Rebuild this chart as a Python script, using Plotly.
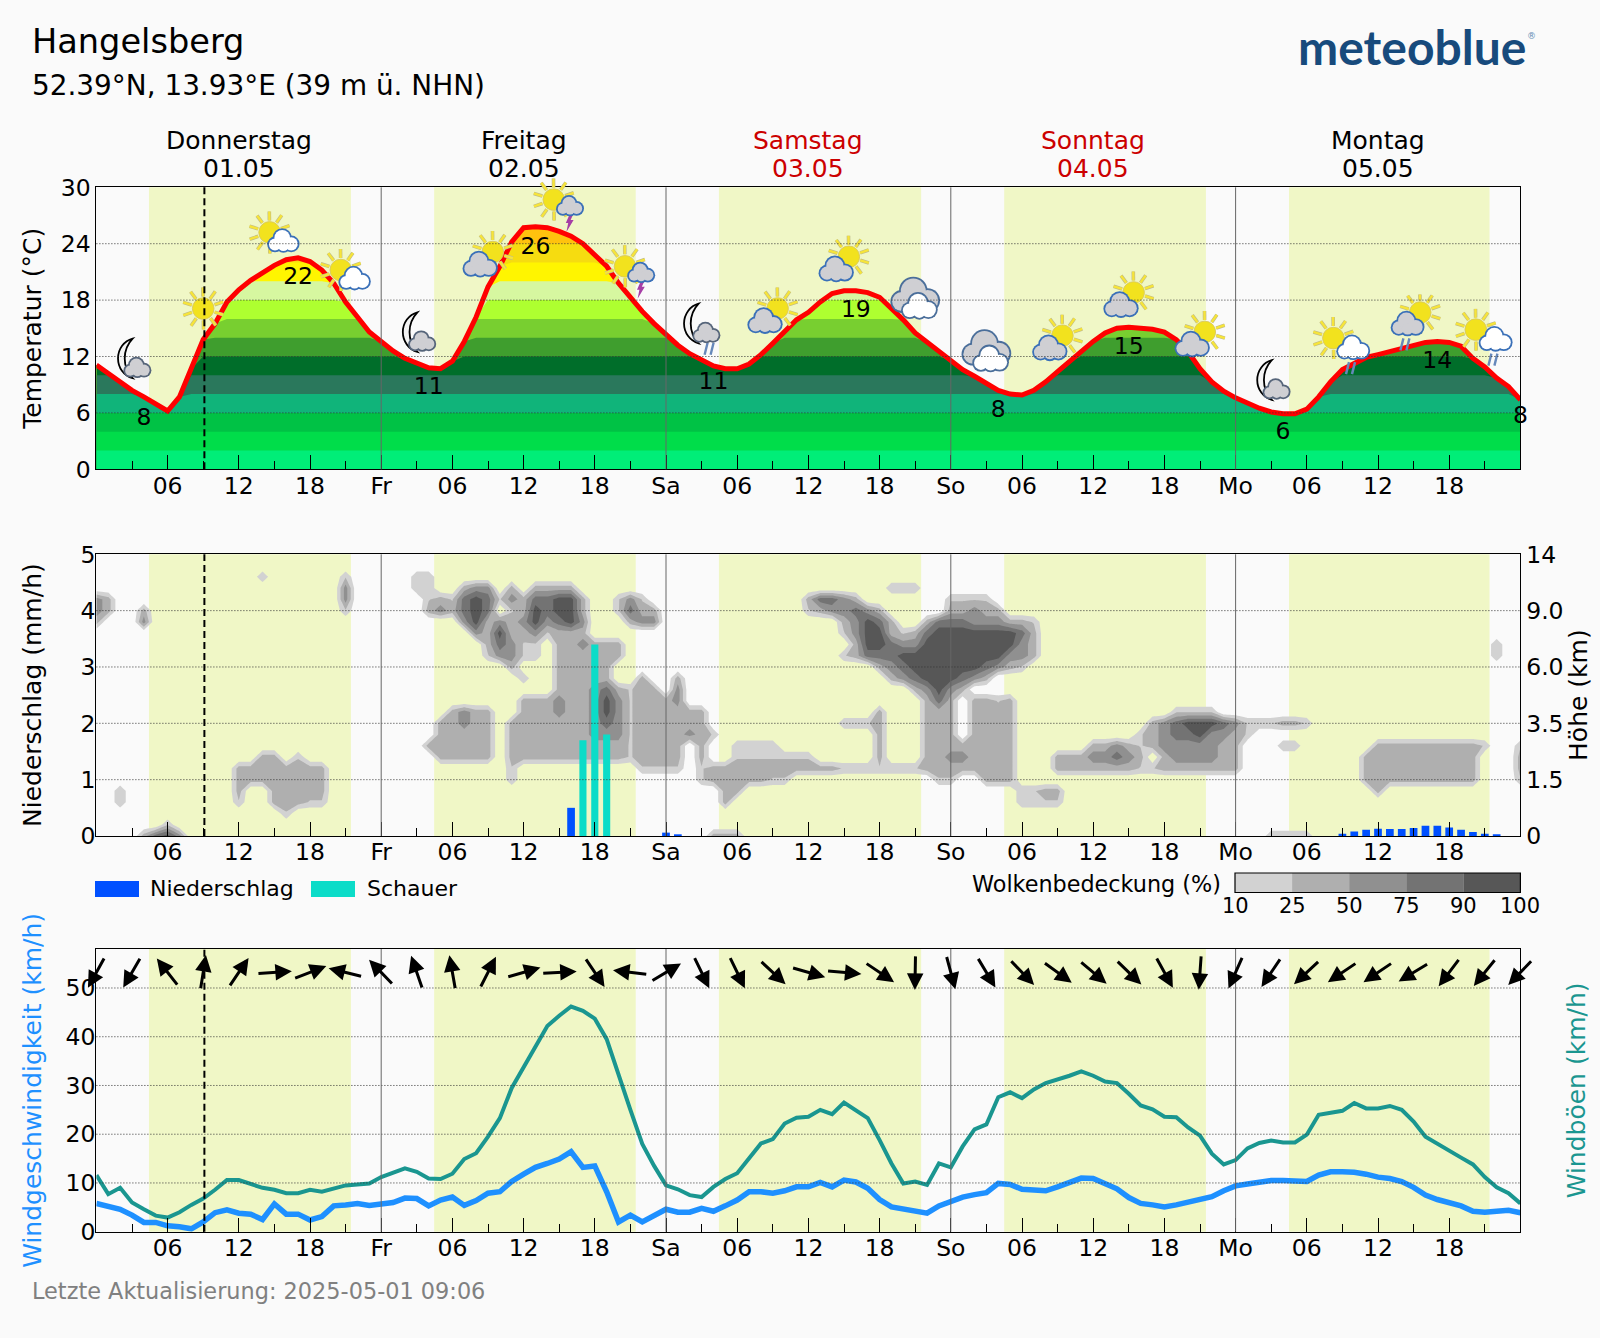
import base64
import math

import numpy as np
import plotly.graph_objects as go

FONT = "DejaVu Sans"
BG = "#FAFAFA"
DAYLIGHT = "#F0F7C6"
WIDTH, HEIGHT = 1600, 1338
PLOT_LEFT, PLOT_RIGHT = 96.4, 1520.4

hours = list(range(121))

temperature = [
    11.1, 10.2, 9.3, 8.4, 7.7, 6.9, 6.2, 7.7, 10.7, 13.8, 15.5, 17.8, 19.1, 20.1, 20.9, 21.7, 22.3, 22.5, 22.1, 21.2,
    19.8, 17.8, 16.2, 14.6, 13.6, 12.6, 11.8, 11.3, 10.8, 10.7, 11.5, 13.6, 16.2, 19.4, 21.6, 24.2, 25.7, 25.8, 25.7, 25.3,
    24.8, 24.0, 22.8, 21.6, 19.8, 18.2, 16.8, 15.5, 14.3, 13.2, 12.3, 11.6, 11.0, 10.7, 10.7, 11.2, 12.2, 13.4, 14.6, 15.9,
    16.7, 17.8, 18.7, 19.0, 19.0, 18.8, 18.3, 17.1, 15.9, 14.5, 13.5, 12.5, 11.6, 10.6, 9.9, 9.1, 8.4, 8.0, 7.9, 8.4,
    9.3, 10.4, 11.5, 12.5, 13.6, 14.5, 15.0, 15.1, 15.0, 14.9, 14.6, 13.8, 12.5, 10.7, 9.3, 8.3, 7.6, 7.0, 6.5, 6.1,
    5.9, 5.9, 6.4, 7.7, 9.3, 10.6, 11.3, 11.9, 12.2, 12.5, 12.8, 13.2, 13.5, 13.6, 13.5, 13.1, 11.8, 10.9, 9.7, 8.8,
    7.4,
]
wind_speed = [
    5.8, 5.1, 4.6, 3.4, 1.9, 1.9, 1.2, 1.0, 0.6, 2.0, 3.9, 4.5, 3.8, 3.6, 2.5, 5.7, 3.6, 3.6, 2.4, 3.1,
    5.3, 5.5, 5.8, 5.4, 5.8, 6.0, 6.9, 6.8, 5.3, 6.5, 7.1, 5.4, 6.4, 7.9, 8.2, 10.3, 11.8, 13.2, 14.0, 14.9,
    16.4, 13.2, 13.5, 8.2, 2.0, 3.4, 2.0, 3.2, 4.6, 4.0, 4.0, 4.8, 4.2, 5.3, 6.5, 8.2, 8.2, 7.9, 8.4, 9.2,
    9.2, 10.1, 9.2, 10.6, 10.2, 8.9, 6.6, 5.1, 4.6, 4.3, 3.8, 5.3, 6.3, 7.1, 7.6, 8.0, 9.9, 9.7, 8.7, 8.6,
    8.4, 9.2, 10.1, 11.0, 10.9, 9.8, 8.8, 7.0, 5.8, 5.5, 5.1, 5.5, 6.0, 6.5, 7.2, 8.4, 9.4, 9.8, 10.1, 10.5,
    10.5, 10.3, 10.3, 11.6, 12.3, 12.3, 12.2, 11.8, 11.2, 10.9, 10.3, 9.1, 7.5, 6.6, 6.0, 5.3, 4.2, 4.0, 4.2, 4.4,
    3.9,
]
wind_gust = [
    11.6, 7.7, 9.0, 6.0, 4.6, 3.3, 2.9, 4.0, 5.5, 6.8, 8.6, 10.6, 10.6, 9.7, 9.0, 8.6, 7.9, 7.9, 8.6, 8.2,
    8.9, 9.5, 9.7, 9.9, 11.2, 12.0, 13.0, 12.3, 10.9, 10.8, 11.9, 14.9, 16.1, 19.5, 23.3, 29.5, 33.7, 38.0, 42.2, 44.3,
    46.2, 45.3, 43.7, 39.5, 32.0, 25.0, 18.0, 13.5, 9.5, 8.7, 7.5, 7.1, 9.2, 10.8, 12.0, 14.9, 18.1, 19.0, 22.2, 23.4,
    23.6, 25.0, 24.1, 26.5, 25.0, 23.3, 18.8, 14.0, 9.9, 10.3, 9.6, 14.0, 13.2, 17.5, 21.0, 22.0, 27.6, 28.6, 27.4, 29.2,
    30.5, 31.2, 32.0, 32.9, 32.0, 30.8, 30.5, 28.3, 25.9, 25.1, 23.6, 23.5, 21.4, 19.7, 16.0, 13.8, 14.7, 17.1, 18.2, 18.7,
    18.3, 18.3, 19.9, 24.0, 24.3, 24.8, 26.4, 25.3, 25.3, 25.8, 25.0, 22.6, 19.5, 18.0, 16.6, 15.2, 13.8, 11.2, 9.1, 7.9,
    5.8,
]
arrow_hours = list(range(0, 121, 3))
arrow_bearing = [
    209, 210, 322, 9, 34, 86, 69, 284, 316, 341, 350, 27, 74, 87, 146, 277, 59, 154, 154, 133,
    106, 95, 124, 181, 165, 149, 136, 126, 130, 134, 151, 184, 204, 214, 227, 236, 236, 239, 217, 219,
    224,
]

precip_hours = [40, 48, 49, 105, 106, 107, 108, 109, 110, 111, 112, 113, 114, 115, 116, 117, 118]
precip_values = [0.5, 0.06, 0.02, 0.04, 0.08, 0.11, 0.13, 0.125, 0.125, 0.14, 0.18, 0.18, 0.15, 0.11, 0.07, 0.04, 0.02]
shower_hours = [41, 42, 43]
shower_values = [1.7, 3.4, 1.8]

daylight = [(4.43, 21.45), (28.46, 45.45), (52.46, 69.5), (76.5, 93.5), (100.5, 117.4)]
now_hour = 9.1

day_names = ["Donnerstag", "Freitag", "Samstag", "Sonntag", "Montag"]
day_dates = ["01.05", "02.05", "03.05", "04.05", "05.05"]
day_colors = ["black", "black", "#CC0000", "#CC0000", "black"]

tick_hours = list(range(0, 121, 6))
tick_labels = [
    "", "06", "12", "18", "Fr", "06", "12", "18", "Sa", "06", "12", "18", "So",
    "06", "12", "18", "Mo", "06", "12", "18", "",
]

band_tops = [40, 24, 22, 20, 18, 16, 14, 12, 10, 8, 6, 4, 2]
band_colors = [
    "#FFC20E", "#F6DC10", "#FFF500", "#D6F7A0", "#AEFF30", "#78CF30", "#3F9E2E",
    "#006E2A", "#2A785C", "#10B47A", "#00C245", "#00DD4A", "#00EE78",
]

label_hours = [4, 17, 28, 37, 52, 64, 76, 87, 100, 113, 120]
label_temps = [5.3, 20.3, 8.6, 23.5, 9.2, 16.8, 6.2, 12.9, 3.8, 11.4, 5.5]
label_texts = ["8", "22", "11", "26", "11", "19", "8", "15", "6", "14", "8"]

icon_hours = list(range(3, 118, 6))
icon_temps = [11.8, 17.1, 25.2, 21.2, 14.6, 22.6, 28.5, 21.4, 15.0, 16.6, 22.1, 17.9, 12.3, 13.7, 18.3, 14.1, 9.5, 13.0, 15.4, 13.9]
icon_kinds = [
    "moon", "sun", "sun_white", "sun_white", "moon", "sun_gray", "sun_storm", "sun_storm", "moon_rain", "sun_gray",
    "sun_gray", "clouds", "clouds", "sun_gray", "sun_gray", "sun_gray", "moon", "sun_white_rain", "sun_gray_rain", "sun_white_rain",
]

# cloud cover classes per height row: (first hour, last hour, class 1-5 = 10/25/50/75/90 %)
cloud_rows = {
    4.6: [(14, 14, 1), (21, 21, 1), (27, 28, 1)],
    4.4: [(21, 21, 3), (27, 28, 1), (31, 31, 2), (32, 33, 3), (35, 35, 2), (37, 40, 2), (67, 69, 1)],
    4.2: [(0, 1, 2), (0, 0, 3), (21, 21, 3), (28, 28, 1), (29, 29, 2), (30, 30, 1), (31, 31, 4), (32, 32, 5), (33, 33, 4),
          (34, 34, 1), (35, 35, 3), (36, 36, 2), (37, 38, 4), (39, 40, 5), (41, 41, 2), (44, 44, 1), (45, 45, 3), (46, 46, 1), (60, 60, 2), (61, 62, 4), (63, 63, 3),
          (64, 64, 2), (72, 75, 1)],
    4.0: [(0, 0, 3), (1, 1, 2), (4, 4, 2), (21, 21, 1), (28, 28, 2), (29, 29, 3), (30, 30, 2), (31, 31, 4), (32, 32, 5),
          (33, 33, 4), (35, 35, 1), (36, 36, 2), (37, 37, 5), (38, 38, 4), (39, 40, 5), (41, 41, 2), (44, 44, 1), (45, 45, 4),
          (46, 47, 2), (60, 60, 1), (61, 61, 2), (62, 63, 3), (64, 64, 4), (65, 65, 3), (66, 66, 2), (72, 76, 2), (74, 74, 3)],
    3.8: [(0, 0, 2), (4, 4, 3), (31, 31, 3), (32, 32, 5), (33, 33, 2), (34, 34, 3), (35, 35, 2), (36, 36, 3), (37, 37, 5),
          (38, 38, 3), (39, 39, 4), (40, 40, 5), (41, 41, 3), (45, 45, 2), (46, 47, 3), (63, 63, 2), (64, 64, 3), (65, 65, 5),
          (66, 66, 4), (67, 67, 2), (70, 70, 2), (71, 73, 4), (74, 76, 3), (77, 78, 2), (79, 79, 1)],
    3.6: [(32, 32, 3), (33, 33, 2), (34, 34, 5), (35, 36, 2), (37, 37, 3), (38, 38, 1), (39, 41, 2), (63, 63, 1), (64, 64, 3),
          (65, 66, 5), (67, 67, 2), (68, 68, 1), (69, 69, 2), (70, 70, 4), (71, 77, 5), (78, 78, 4), (79, 79, 2)],
    3.4: [(33, 33, 2), (34, 34, 4), (35, 35, 3), (36, 37, 1), (39, 40, 2), (41, 41, 3), (42, 44, 2), (64, 64, 2), (65, 66, 5),
          (67, 67, 4), (68, 69, 3), (70, 77, 5), (78, 78, 3), (79, 79, 2), (118, 118, 1)],
    3.2: [(33, 33, 1), (34, 35, 3), (36, 37, 1), (39, 44, 2), (63, 63, 1), (64, 64, 2), (65, 67, 4), (68, 76, 5), (77, 78, 3),
          (79, 79, 2), (118, 118, 1)],
    3.0: [(35, 35, 2), (39, 43, 2), (66, 66, 2), (67, 67, 3), (68, 68, 4), (69, 74, 5), (75, 75, 4), (76, 76, 3), (77, 77, 2),
          (78, 78, 1)],
    2.8: [(36, 36, 1), (39, 43, 2), (46, 46, 2), (49, 49, 2), (67, 67, 2), (68, 68, 3), (69, 69, 4), (70, 72, 5), (73, 73, 4),
          (74, 74, 3), (75, 75, 2)],
    2.6: [(39, 41, 2), (42, 42, 3), (43, 43, 4), (44, 44, 2), (45, 45, 1), (46, 47, 2), (49, 49, 3), (69, 69, 2), (70, 70, 3),
          (71, 71, 5), (72, 72, 3), (73, 73, 2)],
    2.4: [(36, 38, 2), (39, 39, 3), (40, 41, 2), (42, 42, 3), (43, 43, 5), (44, 44, 3), (45, 45, 1), (46, 48, 2), (49, 49, 3),
          (70, 70, 2), (71, 71, 4), (72, 72, 2), (74, 75, 2), (76, 76, 1), (77, 77, 2)],
    2.2: [(30, 33, 2), (31, 31, 3), (36, 38, 2), (39, 39, 3), (40, 41, 2), (42, 42, 3), (43, 43, 5), (44, 44, 3), (45, 45, 1),
          (46, 51, 2), (66, 66, 2), (70, 72, 2), (74, 77, 2), (91, 94, 1)],
    2.0: [(29, 33, 2), (31, 31, 3), (35, 41, 2), (42, 42, 3), (43, 43, 4), (44, 44, 3), (45, 45, 1), (46, 51, 2), (63, 65, 1),
          (66, 66, 2), (70, 72, 2), (74, 77, 2), (89, 89, 2), (90, 90, 3), (91, 91, 4), (92, 94, 5), (95, 95, 4), (96, 96, 3),
          (97, 99, 1), (100, 101, 2), (102, 102, 1)],
    1.8: [(29, 33, 2), (35, 41, 2), (42, 44, 3), (45, 45, 1), (46, 49, 2), (50, 50, 3), (51, 51, 2), (52, 52, 1), (66, 66, 2),
          (70, 72, 2), (74, 77, 2), (88, 88, 1), (89, 89, 2), (90, 90, 3), (91, 92, 4), (93, 93, 5), (94, 95, 3), (96, 96, 2),
          (97, 97, 1)],
    1.6: [(28, 33, 2), (35, 44, 2), (45, 45, 1), (46, 49, 2), (51, 51, 2), (54, 57, 1), (66, 66, 2), (70, 77, 2), (84, 87, 2),
          (86, 86, 3), (88, 88, 1), (89, 89, 2), (90, 94, 3), (95, 96, 2), (100, 101, 1), (108, 116, 2), (117, 117, 1), (120, 120, 1)],
    1.4: [(14, 15, 2), (17, 17, 1), (29, 33, 2), (35, 44, 2), (45, 45, 1), (46, 49, 2), (51, 51, 2), (54, 60, 1), (66, 66, 2),
          (70, 77, 2), (72, 73, 3), (81, 88, 2), (84, 87, 3), (86, 86, 4), (90, 96, 2), (91, 94, 3), (107, 116, 2), (120, 120, 2)],
    1.2: [(12, 13, 2), (14, 19, 2), (35, 35, 1), (46, 49, 1), (51, 51, 1), (52, 62, 2), (63, 69, 1), (70, 77, 2), (81, 87, 2),
          (88, 89, 1), (90, 96, 2), (107, 116, 2), (120, 120, 2)],
    1.0: [(12, 13, 2), (14, 19, 2), (35, 35, 1), (51, 51, 1), (52, 56, 2), (57, 58, 1), (71, 72, 1), (75, 77, 2), (107, 116, 2),
          (120, 120, 1)],
    0.8: [(2, 2, 1), (12, 12, 2), (15, 19, 2), (53, 54, 2), (78, 79, 1), (80, 81, 2), (108, 108, 2)],
    0.6: [(2, 2, 1), (12, 12, 1), (15, 17, 2), (18, 19, 1), (53, 53, 2), (78, 81, 1)],
    0.4: [(16, 16, 1)],
    0.2: [(6, 6, 1)],
    0.0: [(4, 7, 2), (5, 5, 4), (6, 6, 5), (7, 7, 3), (52, 54, 2), (99, 102, 1)],
}
cloud_class_level = [0, 1.9, 2.5, 3.5, 4.5, 5.5]
cloud_colors = ["#D2D2D2", "#AFAFAF", "#909090", "#737373", "#575757"]
cloud_ticks = ["10", "25", "50", "75", "90", "100"]

height_ticks = ["0", "1.5", "3.5", "6.0", "9.0", "14"]

DOMAINS = {1: (187.3, 469.3), 2: (554.3, 836.0), 3: (949.0, 1231.7)}
CBAR_LEFT = 1235.0


def paper_y(py):
    return 1 - py / HEIGHT


def paper_x(px):
    return px / WIDTH


def hour_px(hour):
    return PLOT_LEFT + hour * (PLOT_RIGHT - PLOT_LEFT) / 120


def build_cloud_field():
    rows = np.round(np.arange(0, 5.01, 0.2), 1)
    field = np.zeros((len(rows), len(hours)))
    for row_index, row in enumerate(rows):
        for first, last, cls in cloud_rows.get(float(row), []):
            field[row_index, first : last + 1] = np.maximum(field[row_index, first : last + 1], cloud_class_level[cls])
    return rows.tolist(), field.tolist()


def cloud_svg(cx, cy, s, fill, stroke="#3A70B8"):
    parts = [(cx - 14 * s, cy + 3 * s, 10 * s), (cx - 2 * s, cy - 8 * s, 13 * s), (cx + 13 * s, cy + 2 * s, 11 * s), (cx, cy + 5 * s, 9 * s)]
    out = "".join(f'<circle cx="{x:.1f}" cy="{y:.1f}" r="{r + 3:.1f}" fill="{stroke}"/>' for x, y, r in parts)
    out += "".join(f'<circle cx="{x:.1f}" cy="{y:.1f}" r="{r:.1f}" fill="{fill}"/>' for x, y, r in parts)
    return out


def sun_svg(cx, cy, r=18, ray=35):
    out = ""
    for color, width in (("#BDB98A", 6), ("#F6E43A", 4)):
        for k in range(10):
            a = k * math.pi / 5 + 0.3
            out += (
                f'<line x1="{cx + (r + 2) * math.cos(a):.1f}" y1="{cy + (r + 2) * math.sin(a):.1f}" '
                f'x2="{cx + ray * math.cos(a):.1f}" y2="{cy + ray * math.sin(a):.1f}" stroke="{color}" stroke-width="{width}"/>'
            )
    out += f'<circle cx="{cx}" cy="{cy}" r="{r}" fill="#F2E21E" stroke="#D8C860" stroke-width="1.5"/>'
    return out


def moon_svg(cx, cy):
    return (
        f'<path d="M {cx + 13} {cy - 33} A 32 34 0 0 0 {cx + 13} {cy + 33} A 48 48 0 0 1 {cx + 13} {cy - 33} Z" '
        'fill="#F4F4F4" stroke="black" stroke-width="3"/>'
    )


def rain_svg(cx, cy):
    return "".join(
        f'<line x1="{cx + d + 3}" y1="{cy - 10}" x2="{cx + d - 2}" y2="{cy + 10}" stroke="#6688BB" stroke-width="4"/>' for d in (-5, 5)
    )


def bolt_svg(cx, cy):
    return f'<path d="M {cx + 2} {cy - 14} L {cx + 8} {cy - 14} L {cx + 3} {cy - 3} L {cx + 8} {cy - 3} L {cx - 4} {cy + 17} L {cx - 1} {cy + 2} L {cx - 5} {cy + 2} Z" fill="#A63FA6"/>'


def icon_source(kind):
    white, gray = "#FFFFFF", "#CFCFD3"
    if kind == "sun":
        body = sun_svg(50, 50)
    elif kind == "moon":
        body = moon_svg(38, 50) + cloud_svg(59, 68, 0.85, gray, "#56657A")
    elif kind == "moon_rain":
        body = moon_svg(32, 42) + rain_svg(62, 84) + cloud_svg(58, 60, 0.85, gray, "#56657A")
    elif kind == "sun_white":
        body = sun_svg(42, 50) + cloud_svg(65, 67, 1.0, white)
    elif kind == "sun_gray":
        body = sun_svg(58, 42) + cloud_svg(37, 66, 1.1, gray)
    elif kind == "sun_storm":
        body = sun_svg(41, 47) + bolt_svg(66, 84) + cloud_svg(68, 60, 0.85, gray)
    elif kind == "sun_white_rain":
        body = sun_svg(35, 35) + rain_svg(63, 85) + cloud_svg(68, 54, 1.05, white)
    elif kind == "sun_gray_rain":
        body = sun_svg(61, 30) + rain_svg(35, 83) + cloud_svg(40, 52, 1.05, gray)
    else:
        body = cloud_svg(50, 46, 1.6, gray, "#4A6E9A") + cloud_svg(57, 62, 1.15, white, "#4A6E9A")
    svg = f'<svg xmlns="http://www.w3.org/2000/svg" viewBox="0 0 100 100" width="200" height="200">{body}</svg>'
    return "data:image/svg+xml;base64," + base64.b64encode(svg.encode()).decode()


def add_bands(fig):
    for top, color in zip(band_tops, band_colors):
        fig.add_trace(
            go.Scatter(
                x=hours,
                y=np.minimum(temperature, top),
                mode="lines",
                line={"width": 0},
                fill="tozeroy",
                fillcolor=color,
                showlegend=False,
                xaxis="x",
                yaxis="y",
                hoverinfo="skip",
            )
        )


fig = go.Figure()
add_bands(fig)
fig.add_trace(go.Scatter(x=hours, y=temperature, mode="lines", line={"color": "#FF0000", "width": 5}, name="Temperatur", showlegend=False, xaxis="x", yaxis="y"))
fig.add_trace(
    go.Scatter(
        x=label_hours, y=label_temps, text=label_texts, mode="text", textfont={"family": FONT, "size": 23.5, "color": "black"},
        cliponaxis=False, showlegend=False, xaxis="x", yaxis="y",
    )
)

cloud_y, cloud_z = build_cloud_field()
fig.add_trace(
    go.Contour(
        x=hours,
        y=cloud_y,
        z=cloud_z,
        zmin=0.5,
        zmax=6.5,
        autocontour=False,
        contours={"start": 1, "end": 6, "size": 1, "coloring": "fill", "showlines": False},
        line={"width": 0, "smoothing": 0},
        colorscale=[[i / 6, c] for i, c in enumerate(["rgba(0,0,0,0)"] + cloud_colors + [cloud_colors[-1]])],
        showscale=False,
        xaxis="x2",
        yaxis="y2",
        hoverinfo="skip",
    )
)
fig.add_trace(go.Bar(x=precip_hours, y=precip_values, width=0.65, marker={"color": "#0050FF", "line": {"width": 0}}, name="Niederschlag", showlegend=False, xaxis="x2", yaxis="y4"))
fig.add_trace(go.Bar(x=shower_hours, y=shower_values, width=0.6, marker={"color": "#0CDCC8", "line": {"width": 0}}, name="Schauer", showlegend=False, xaxis="x2", yaxis="y4"))

fig.add_trace(go.Scatter(x=hours, y=wind_gust, mode="lines", line={"color": "#1A9690", "width": 4}, name="Windböen", showlegend=False, xaxis="x3", yaxis="y3"))
fig.add_trace(go.Scatter(x=hours, y=wind_speed, mode="lines", line={"color": "#1E90FF", "width": 5.5}, name="Windgeschwindigkeit", showlegend=False, xaxis="x3", yaxis="y5"))

x_common = {
    "range": [0, 120],
    "tickmode": "array",
    "tickvals": tick_hours,
    "ticktext": tick_labels,
    "ticks": "inside",
    "ticklen": 14,
    "tickwidth": 1,
    "tickcolor": "black",
    "ticklabelstandoff": -5,
    "minor": {"ticks": "inside", "ticklen": 8, "tickwidth": 1, "tickcolor": "black", "tick0": 0, "dtick": 3},
    "tickangle": 0,
    "tickfont": {"family": FONT, "size": 23.5, "color": "black"},
    "showgrid": False,
    "zeroline": False,
    "showline": True,
    "linecolor": "black",
    "linewidth": 1.2,
    "mirror": True,
    "domain": [paper_x(PLOT_LEFT), paper_x(PLOT_RIGHT)],
}


def y_common(panel, y_range, tickvals, ticktext, side="left", title=None, title_color="black", standoff=10):
    top, bottom = DOMAINS[panel]
    axis = {
        "domain": [paper_y(bottom), paper_y(top)],
        "range": y_range,
        "tickmode": "array",
        "tickvals": tickvals,
        "ticktext": ticktext,
        "ticks": "",
        "side": side,
        "ticklabelstandoff": 0,
        "tickfont": {"family": FONT, "size": 23.5, "color": "black"},
        "showgrid": False,
        "zeroline": False,
        "automargin": False,
    }
    if title:
        axis["title"] = {"text": title, "font": {"family": FONT, "size": 25, "color": title_color}, "standoff": standoff}
    return axis


layout_axes = {
    "xaxis": {**x_common, "anchor": "y"},
    "xaxis2": {**x_common, "anchor": "y2"},
    "xaxis3": {**x_common, "anchor": "y3"},
    "yaxis": {
        **y_common(1, [0, 30], [0, 6, 12, 18, 24, 30], ["0", "6", "12", "18", "24", "30"], title="Temperatur (°C)", standoff=11),
        "anchor": "x", "showline": True, "linecolor": "black", "linewidth": 1.2, "mirror": True,
    },
    "yaxis2": {
        **y_common(2, [0, 5], [0, 1, 2, 3, 4, 5], height_ticks, side="right", title="Höhe (km)", standoff=6),
        "anchor": "x2", "showline": True, "linecolor": "black", "linewidth": 1.2, "mirror": True,
    },
    "yaxis3": {
        **y_common(3, [0, 58], [0, 10, 20, 30, 40, 50], ["", "", "", "", "", ""], side="right", title="Windböen (km/h)", title_color="#1A9690", standoff=42),
        "anchor": "x3", "showline": True, "linecolor": "black", "linewidth": 1.2, "mirror": True,
    },
    "yaxis4": {
        **y_common(2, [0, 5], [0, 1, 2, 3, 4, 5], ["0", "1", "2", "3", "4", "5"], title="Niederschlag (mm/h)", standoff=31),
        "anchor": "x2", "overlaying": "y2",
    },
    "yaxis5": {
        **y_common(3, [0, 58], [0, 10, 20, 30, 40, 50], ["0", "10", "20", "30", "40", "50"], title="Windgeschwindigkeit (km/h)", title_color="#1E90FF", standoff=16),
        "anchor": "x3", "overlaying": "y3",
    },
}

shapes = []
grid_values = {1: [6, 12, 18, 24], 2: [1, 2, 3, 4], 3: [10, 20, 30, 40, 50]}
y_refs = {1: "y", 2: "y2", 3: "y3"}
x_refs = {1: "x", 2: "x2", 3: "x3"}
for panel in (1, 2, 3):
    xref, yref = x_refs[panel], y_refs[panel]
    for start, end in daylight:
        shapes.append({
            "type": "rect", "xref": xref, "yref": f"{yref} domain", "x0": start, "x1": end, "y0": 0, "y1": 1,
            "fillcolor": DAYLIGHT, "line": {"width": 0}, "layer": "below",
        })
    for value in grid_values[panel]:
        shapes.append({
            "type": "line", "xref": f"{xref} domain", "yref": yref, "x0": 0, "x1": 1, "y0": value, "y1": value,
            "line": {"color": "#333333", "width": 1, "dash": "1px,2px"}, "layer": "above",
        })
    for hour in (24, 48, 72, 96):
        shapes.append({
            "type": "line", "xref": xref, "yref": f"{yref} domain", "x0": hour, "x1": hour, "y0": 0, "y1": 1,
            "line": {"color": "#666666", "width": 1}, "layer": "above",
        })
    shapes.append({
        "type": "line", "xref": xref, "yref": f"{yref} domain", "x0": now_hour, "x1": now_hour, "y0": 0, "y1": 1,
        "line": {"color": "black", "width": 2, "dash": "7px,4px"}, "layer": "above",
    })

# precipitation legend swatches
for name_px, color in ((95.0, "#0050FF"), (311.0, "#0CDCC8")):
    shapes.append({
        "type": "rect", "xref": "paper", "yref": "paper",
        "x0": paper_x(name_px), "x1": paper_x(name_px + 44), "y0": paper_y(897), "y1": paper_y(881),
        "fillcolor": color, "line": {"width": 0},
    })

# cloud cover scale
cbar_step = (PLOT_RIGHT - CBAR_LEFT) / len(cloud_colors)
for index, color in enumerate(cloud_colors):
    shapes.append({
        "type": "rect", "xref": "paper", "yref": "paper",
        "x0": paper_x(CBAR_LEFT + index * cbar_step), "x1": paper_x(CBAR_LEFT + (index + 1) * cbar_step),
        "y0": paper_y(892.5), "y1": paper_y(873), "fillcolor": color, "line": {"width": 0},
    })
shapes.append({
    "type": "rect", "xref": "paper", "yref": "paper", "x0": paper_x(CBAR_LEFT), "x1": paper_x(PLOT_RIGHT),
    "y0": paper_y(892.5), "y1": paper_y(873), "line": {"color": "black", "width": 1.2},
})

annotations = []


def add_text(text, px, py, size, color="black", anchor="left", **font_extra):
    annotations.append({
        "text": text, "xref": "paper", "yref": "paper", "x": paper_x(px), "y": paper_y(py), "xanchor": anchor, "yanchor": "middle",
        "showarrow": False, "font": {"family": font_extra.pop("family", FONT), "size": size, "color": color, **font_extra},
    })


add_text("Hangelsberg", 29.5, 42, 33.6)
add_text("52.39°N, 13.93°E (39 m ü. NHN)", 29.5, 85, 27.9)
add_text("meteoblue", 1528, 47, 48, "#174A7C", "right", family="Lato", weight=700)
add_text("®", 1525, 36, 9, "#5F8DB5", "left")
add_text("Letzte Aktualisierung: 2025-05-01 09:06", 29.5, 1291, 22.4, "#808080")
add_text("Niederschlag", 148, 889, 22)
add_text("Schauer", 365, 889, 22)
add_text("Wolkenbedeckung (%)", 1223, 884, 22.3, anchor="right")
for index, label in enumerate(cloud_ticks):
    add_text(label, CBAR_LEFT + index * cbar_step, 906, 21, anchor="center")
for index, (name, date, color) in enumerate(zip(day_names, day_dates, day_colors)):
    center = hour_px(12 + index * 24)
    add_text(name, center, 141, 25, color, "center")
    add_text(date, center, 169, 25, color, "center")

top3, bottom3 = DOMAINS[3]
px_per_kmh = (bottom3 - top3) / 58
ARROW_LEN = 35
arrow_center = 53.2
for hour, bearing in zip(arrow_hours, arrow_bearing):
    dx = math.sin(math.radians(bearing)) * ARROW_LEN
    dy = math.cos(math.radians(bearing)) * ARROW_LEN
    annotations.append({
        "x": paper_x(hour_px(hour) + dx / 2),
        "y": paper_y(bottom3 - arrow_center * px_per_kmh - dy / 2),
        "xref": "paper", "yref": "paper",
        "ax": -dx, "ay": dy, "axref": "pixel", "ayref": "pixel", "text": "", "showarrow": True,
        "arrowhead": 2, "arrowsize": 1.1, "arrowwidth": 3, "arrowcolor": "black",
    })

images = []
ICON_PX = 60
top1, bottom1 = DOMAINS[1]
for hour, temp, kind in zip(icon_hours, icon_temps, icon_kinds):
    images.append({
        "source": icon_source(kind),
        "xref": "paper", "yref": "paper",
        "x": paper_x(hour_px(hour)),
        "y": paper_y(bottom1 - temp * (bottom1 - top1) / 30),
        "sizex": ICON_PX / WIDTH,
        "sizey": ICON_PX / HEIGHT,
        "xanchor": "center", "yanchor": "middle", "sizing": "stretch", "layer": "above",
    })

fig.update_layout(
    width=WIDTH,
    height=HEIGHT,
    autosize=False,
    margin={"l": 0, "r": 0, "t": 0, "b": 0, "pad": 0},
    paper_bgcolor=BG,
    plot_bgcolor=BG,
    font={"family": FONT, "color": "black"},
    showlegend=False,
    barmode="overlay",
    shapes=shapes,
    annotations=annotations,
    images=images,
    **layout_axes,
)

fig.write_html(
    "out.html",
    config={"displayModeBar": False},
    post_script=f"document.body.style.margin='0';document.body.style.background='{BG}';document.body.style.overflow='hidden';",
)
